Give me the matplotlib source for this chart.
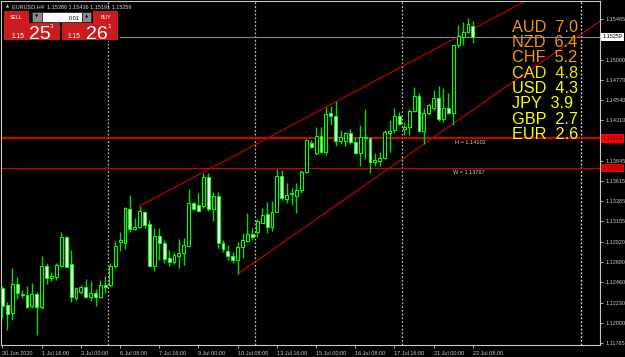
import numpy as np
import matplotlib.pyplot as plt
from matplotlib.patches import Rectangle
from matplotlib.transforms import blended_transform_factory

plt.rcParams['font.family'] = ['Liberation Sans', 'DejaVu Sans']

# 1. EURUSD H4 bars, 30 Jun 2020 08:00 .. 22 Jul 2020 08:00
opens = [1.12396, 1.12202, 1.12111, 1.12441, 1.12316, 1.12316, 1.12191, 1.12327, 1.12179, 1.12647,
         1.12510, 1.12521, 1.12647, 1.12977, 1.12669, 1.12282, 1.12350, 1.12407, 1.12293, 1.12339,
         1.12293, 1.12430, 1.12430, 1.12647, 1.12920, 1.12909, 1.13296, 1.13068, 1.13091, 1.13262,
         1.13125, 1.12647, 1.12989, 1.12909, 1.12738, 1.12692, 1.12761, 1.12795, 1.12875, 1.13365,
         1.13342, 1.13331, 1.13661, 1.13296, 1.13445, 1.12909, 1.12818, 1.12761, 1.12715, 1.12863,
         1.12932, 1.13011, 1.13034, 1.13137, 1.13239, 1.13091, 1.13262, 1.13673, 1.13410, 1.13467,
         1.13445, 1.13513, 1.13718, 1.14049, 1.13935, 1.14129, 1.13946, 1.14391, 1.14357, 1.14072,
         1.14072, 1.14163, 1.14060, 1.13935, 1.14106, 1.14106, 1.13832, 1.13844, 1.13878, 1.14163,
         1.14197, 1.14357, 1.14208, 1.14231, 1.14414, 1.14585, 1.14186, 1.14391, 1.14448, 1.14562,
         1.14322, 1.14448, 1.14391, 1.15166, 1.15257, 1.15314, 1.15386]
highs = [1.12419, 1.12236, 1.12624, 1.12521, 1.12373, 1.12419, 1.12453, 1.12350, 1.12761, 1.12681,
         1.12578, 1.12681, 1.13034, 1.12989, 1.12829, 1.12407, 1.12430, 1.12498, 1.12476, 1.12384,
         1.12487, 1.12533, 1.12681, 1.12932, 1.13034, 1.13319, 1.13456, 1.13194, 1.13331, 1.13274,
         1.13171, 1.13080, 1.13080, 1.12943, 1.12829, 1.12806, 1.12954, 1.12966, 1.13524, 1.13376,
         1.13479, 1.13707, 1.13707, 1.13490, 1.13490, 1.12943, 1.12886, 1.12806, 1.12920, 1.13023,
         1.13251, 1.13080, 1.13182, 1.13308, 1.13376, 1.13388, 1.13752, 1.13741, 1.13593, 1.13536,
         1.13593, 1.13741, 1.14094, 1.14083, 1.14231, 1.14231, 1.14459, 1.14471, 1.14528, 1.14197,
         1.14174, 1.14208, 1.14117, 1.14254, 1.14436, 1.14117, 1.13935, 1.13946, 1.14197, 1.14311,
         1.14448, 1.14402, 1.14288, 1.14436, 1.14687, 1.14619, 1.14448, 1.14505, 1.14653, 1.14699,
         1.14676, 1.14619, 1.15166, 1.15394, 1.15428, 1.15474, 1.15436]
lows = [1.12054, 1.11917, 1.12031, 1.12270, 1.12282, 1.12168, 1.12168, 1.11860, 1.12156, 1.12441,
        1.12476, 1.12487, 1.12635, 1.12635, 1.12236, 1.12259, 1.12327, 1.12282, 1.12248, 1.12191,
        1.12282, 1.12339, 1.12407, 1.12624, 1.12818, 1.12840, 1.13034, 1.13057, 1.13080, 1.13080,
        1.12647, 1.12590, 1.12715, 1.12681, 1.12647, 1.12669, 1.12624, 1.12658, 1.12863, 1.13285,
        1.13262, 1.13308, 1.13274, 1.13160, 1.12852, 1.12806, 1.12715, 1.12681, 1.12555, 1.12738,
        1.12920, 1.12943, 1.12977, 1.13137, 1.13023, 1.13046, 1.13262, 1.13399, 1.13365, 1.13342,
        1.13251, 1.13479, 1.13707, 1.13992, 1.13912, 1.13935, 1.13912, 1.14254, 1.14015, 1.14037,
        1.14015, 1.14037, 1.13923, 1.13787, 1.13866, 1.13707, 1.13787, 1.13787, 1.13866, 1.13946,
        1.14163, 1.14254, 1.14140, 1.14140, 1.14402, 1.14174, 1.14037, 1.14368, 1.14425, 1.14300,
        1.14288, 1.14379, 1.14254, 1.15132, 1.15166, 1.15303, 1.15191]
closes = [1.12191, 1.12099, 1.12441, 1.12339, 1.12327, 1.12179, 1.12327, 1.12179, 1.12647, 1.12510,
          1.12533, 1.12658, 1.12977, 1.12635, 1.12293, 1.12396, 1.12407, 1.12293, 1.12339, 1.12293,
          1.12430, 1.12407, 1.12647, 1.12875, 1.12943, 1.13308, 1.13068, 1.13091, 1.13274, 1.13114,
          1.12647, 1.12989, 1.12909, 1.12726, 1.12692, 1.12772, 1.12795, 1.12886, 1.13365, 1.13296,
          1.13274, 1.13661, 1.13296, 1.13445, 1.12909, 1.12840, 1.12761, 1.12715, 1.12863, 1.12943,
          1.13011, 1.12977, 1.13160, 1.13228, 1.13091, 1.13262, 1.13673, 1.13422, 1.13456, 1.13479,
          1.13513, 1.13718, 1.14083, 1.14003, 1.14129, 1.13946, 1.14379, 1.14357, 1.14072, 1.14117,
          1.14163, 1.14060, 1.13935, 1.14117, 1.14117, 1.13832, 1.13855, 1.13878, 1.14174, 1.14186,
          1.14357, 1.14265, 1.14231, 1.14414, 1.14585, 1.14186, 1.14391, 1.14482, 1.14562, 1.14322,
          1.14448, 1.14391, 1.15166, 1.15269, 1.15314, 1.15406, 1.15259]

xtick_labels = ['30 Jun 2020', '1 Jul 16:00', '3 Jul 00:00', '6 Jul 08:00', '7 Jul 16:00',
                '9 Jul 00:00', '10 Jul 08:00', '13 Jul 16:00', '15 Jul 00:00', '16 Jul 08:00',
                '17 Jul 16:00', '21 Jul 00:00', '22 Jul 08:00']
# price scale (1.15235 and 1.14080 sit under the level labels, so they are left out)
price_ticks = [1.15465, 1.15000, 1.14770, 1.14540, 1.14310, 1.13845, 1.13615,
               1.13385, 1.13155, 1.12920, 1.12690, 1.12460, 1.12230, 1.12000, 1.11765]

currencies = ['AUD', 'NZD', 'CHF', 'CAD', 'USD', 'JPY', 'GBP', 'EUR']
strength = [7.0, 6.4, 5.2, 4.8, 4.3, 3.9, 2.7, 2.6]
strength_colors = ['#eb9a10', '#eb9a10', '#eb9a10', '#f0e000', '#ffff00', '#ffff00', '#ffff00', '#ffff00']

bid = 1.15259
level_h = 1.14102
level_w = 1.13767
week_breaks = [21.5, 51.5, 81.5]
shift_mark = 118

# 2. Figure
W, H = 625, 357
fig = plt.figure(figsize=(W / 100, H / 100), dpi=100, facecolor='black')
ax = fig.add_axes([1.5 / W, 12 / H, 598.5 / W, 344 / H], facecolor='black')

o = np.array(opens)
h = np.array(highs)
l = np.array(lows)
c = np.array(closes)
x = np.arange(len(o))
up = c >= o

# candles: bull = black body, bear = white body, lime outline
ax.vlines(x, l, h, color='#00e000', lw=1, zorder=3)
ax.bar(x, np.abs(c - o), bottom=np.minimum(o, c), width=0.6,
       color=np.where(up, 'black', 'white'), edgecolor='#00ff00', linewidth=0.8, zorder=4)

# separators
for b in week_breaks:
    ax.axvline(b, color='#b8b8b8', lw=0.9, ls=(0, (1.5, 1.5)), zorder=1)
ax.axvline(shift_mark, color='#e0e0e0', lw=0.9, ls=(0, (1.5, 1.5)), zorder=1)

# levels
ax.axhline(bid, color='#7f8c99', lw=0.8, zorder=2)
ax.axhline(level_h, color='#ff0000', lw=1.2, zorder=2)
ax.axhline(level_w, color='#c80000', lw=0.9, zorder=2)
ax.annotate(f'H = {level_h:.5f}', (92.3, level_h), xytext=(0, -1.5), textcoords='offset points',
            fontsize=4, color='#d0d0d0', va='top', ha='left')
ax.annotate(f'W = {level_w:.5f}', (92.0, level_w), xytext=(0, -1.5), textcoords='offset points',
            fontsize=4, color='#d0d0d0', va='top', ha='left')

# trend channel rays
def ray(i0, p0, i1, p1):
    xs = np.array([i0, 130.0])
    slope = (p1 - p0) / (i1 - i0)
    ax.plot(xs, p0 + slope * (xs - i0), color='#d00000', lw=0.8, zorder=2)

ray(28, highs[28], 66, highs[66])
ray(48, lows[48], 86, lows[86])

# 3. Axes
ax.set_xlim(-0.2, 121.94)
ax.set_ylim(1.11746, 1.15668)
ax.yaxis.tick_right()
ax.set_yticks(price_ticks)
ax.set_yticklabels([f'{p:.5f}' for p in price_ticks])
ax.set_xticks(range(0, len(o), 8))
ax.set_xticklabels(xtick_labels, ha='left')
ax.tick_params(axis='both', colors='#c8c8c8', labelsize=4, length=2.5, width=0.6, pad=1.5)
for s in ax.spines.values():
    s.set_color('#c8c8c8')
    s.set_linewidth(0.8)

trans = blended_transform_factory(ax.transAxes, ax.transData)
for val, fc, tc in [(bid, 'white', 'black'), (level_h, '#ff0000', '#500000'), (level_w, '#e00000', '#500000')]:
    ax.text(1.004, val, f'{val:.5f}', transform=trans, fontsize=4, color=tc, va='center', ha='left',
            bbox=dict(boxstyle='square,pad=0.3', fc=fc, ec='none'), zorder=10, clip_on=False)

# 4. Currency strength table
for k, (cur, val, col) in enumerate(zip(currencies, strength, strength_colors)):
    fig.text(511.7 / W, 1 - (31.7 + 15.3 * k) / H, f'{cur}  {val:.1f}', fontsize=11.7,
             color=col, va='baseline', ha='left', zorder=15)

# 5. Header and one-click panel
fig.text(12 / W, 1 - 8 / H, 'EURUSD,H4  ' + ' '.join(f'{v:.5f}' for v in (o[-1], h[-1], l[-1], c[-1])),
         fontsize=4, color='#d8d8d8', va='baseline', ha='left')
fig.text(8 / W, 1 - 6.5 / H, '▲', fontsize=3, color='#d8d8d8', va='center', ha='center',
         family='DejaVu Sans')


def px_rect(x0, y0, x1, y1, fc, ec='none'):
    fig.add_artist(Rectangle((x0 / W, 1 - y1 / H), (x1 - x0) / W, (y1 - y0) / H,
                             transform=fig.transFigure, fc=fc, ec=ec, lw=0.5, zorder=20))


def px_text(xp, yp, s, size, color='white', ha='left', va='baseline'):
    fig.text(xp / W, 1 - yp / H, s, fontsize=size, color=color, ha=ha, va=va, zorder=21)


red_btn = '#c81c1e'
px_rect(2, 10, 120, 41, 'black')
px_rect(4, 11, 29, 23, red_btn)
px_rect(32, 12, 42, 22, '#8c8c8c', '#202020')
px_rect(42, 12, 82, 22, 'white', '#202020')
px_rect(82, 12, 91, 22, '#8c8c8c', '#202020')
px_rect(93, 11, 118, 23, red_btn)
px_rect(4, 23, 60, 40, red_btn)
px_rect(62, 23, 118, 40, red_btn)
px_text(16.5, 17.5, 'SELL', 3.8, ha='center', va='center')
px_text(105.5, 17.5, 'BUY', 3.8, ha='center', va='center')
fig.text(37 / W, 1 - 17 / H, '▼', fontsize=3, color='black', ha='center', va='center', zorder=21,
         family='DejaVu Sans')
fig.text(86.5 / W, 1 - 17 / H, '▲', fontsize=3, color='black', ha='center', va='center', zorder=21,
         family='DejaVu Sans')
px_text(80, 19.5, '0.01', 4, color='black', ha='right')
px_text(12, 38, '1.15', 4.8)
px_text(29, 39, '25', 14)
px_text(50, 28, '3', 4.5)
px_text(68, 38, '1.15', 4.8)
px_text(86, 39, '26', 14)
px_text(107, 28, '1', 4.5)

fig.savefig('out.png', dpi=100, facecolor='black')
